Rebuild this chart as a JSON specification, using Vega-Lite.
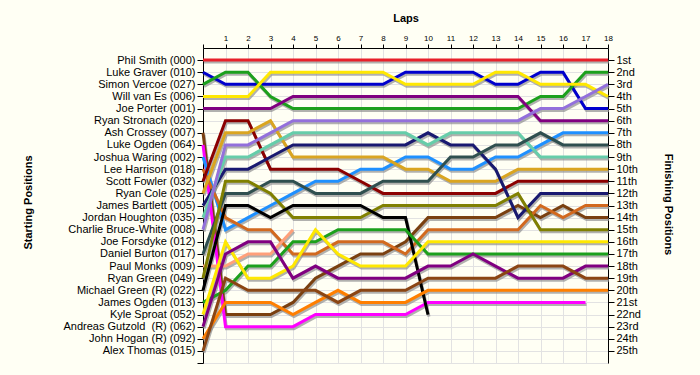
{
  "$schema": "https://vega.github.io/schema/vega-lite/v6.json",
  "width": 405,
  "height": 315,
  "autosize": "none",
  "padding": {"left": 203, "top": 48, "right": 92, "bottom": 12},
  "background": "#FFFFF4",
  "config": {"view": {"stroke": null, "fill": "#FFFFF4"}, "font": "Liberation Sans"},
  "datasets": {
    "laps": [
      {"d":"000","l":0,"p":1},{"d":"000","l":1,"p":1},{"d":"000","l":2,"p":1},{"d":"000","l":3,"p":1},{"d":"000","l":4,"p":1},{"d":"000","l":5,"p":1},{"d":"000","l":6,"p":1},{"d":"000","l":7,"p":1},{"d":"000","l":8,"p":1},{"d":"000","l":9,"p":1},{"d":"000","l":10,"p":1},{"d":"000","l":11,"p":1},{"d":"000","l":12,"p":1},{"d":"000","l":13,"p":1},{"d":"000","l":14,"p":1},{"d":"000","l":15,"p":1},{"d":"000","l":16,"p":1},{"d":"000","l":17,"p":1},{"d":"000","l":18,"p":1},
      {"d":"010","l":0,"p":2},{"d":"010","l":1,"p":3},{"d":"010","l":2,"p":3},{"d":"010","l":3,"p":3},{"d":"010","l":4,"p":3},{"d":"010","l":5,"p":3},{"d":"010","l":6,"p":3},{"d":"010","l":7,"p":3},{"d":"010","l":8,"p":3},{"d":"010","l":9,"p":2},{"d":"010","l":10,"p":2},{"d":"010","l":11,"p":2},{"d":"010","l":12,"p":2},{"d":"010","l":13,"p":3},{"d":"010","l":14,"p":3},{"d":"010","l":15,"p":2},{"d":"010","l":16,"p":2},{"d":"010","l":17,"p":5},{"d":"010","l":18,"p":5},
      {"d":"027","l":0,"p":3},{"d":"027","l":1,"p":2},{"d":"027","l":2,"p":2},{"d":"027","l":3,"p":4},{"d":"027","l":4,"p":5},{"d":"027","l":5,"p":5},{"d":"027","l":6,"p":5},{"d":"027","l":7,"p":5},{"d":"027","l":8,"p":5},{"d":"027","l":9,"p":5},{"d":"027","l":10,"p":5},{"d":"027","l":11,"p":5},{"d":"027","l":12,"p":5},{"d":"027","l":13,"p":5},{"d":"027","l":14,"p":5},{"d":"027","l":15,"p":4},{"d":"027","l":16,"p":4},{"d":"027","l":17,"p":2},{"d":"027","l":18,"p":2},
      {"d":"006","l":0,"p":4},{"d":"006","l":1,"p":4},{"d":"006","l":2,"p":4},{"d":"006","l":3,"p":2},{"d":"006","l":4,"p":2},{"d":"006","l":5,"p":2},{"d":"006","l":6,"p":2},{"d":"006","l":7,"p":2},{"d":"006","l":8,"p":2},{"d":"006","l":9,"p":3},{"d":"006","l":10,"p":3},{"d":"006","l":11,"p":3},{"d":"006","l":12,"p":3},{"d":"006","l":13,"p":2},{"d":"006","l":14,"p":2},{"d":"006","l":15,"p":3},{"d":"006","l":16,"p":3},{"d":"006","l":17,"p":3},{"d":"006","l":18,"p":4},
      {"d":"001","l":0,"p":5},{"d":"001","l":1,"p":5},{"d":"001","l":2,"p":5},{"d":"001","l":3,"p":5},{"d":"001","l":4,"p":4},{"d":"001","l":5,"p":4},{"d":"001","l":6,"p":4},{"d":"001","l":7,"p":4},{"d":"001","l":8,"p":4},{"d":"001","l":9,"p":4},{"d":"001","l":10,"p":4},{"d":"001","l":11,"p":4},{"d":"001","l":12,"p":4},{"d":"001","l":13,"p":4},{"d":"001","l":14,"p":4},{"d":"001","l":15,"p":6},{"d":"001","l":16,"p":6},{"d":"001","l":17,"p":6},{"d":"001","l":18,"p":6},
      {"d":"020","l":0,"p":6},
      {"d":"007","l":0,"p":7},{"d":"007","l":1,"p":22},{"d":"007","l":2,"p":22},{"d":"007","l":3,"p":22},{"d":"007","l":4,"p":21},{"d":"007","l":5,"p":19},{"d":"007","l":6,"p":18},{"d":"007","l":7,"p":17},{"d":"007","l":8,"p":17},{"d":"007","l":9,"p":16},{"d":"007","l":10,"p":14},{"d":"007","l":11,"p":14},{"d":"007","l":12,"p":14},{"d":"007","l":13,"p":14},{"d":"007","l":14,"p":13},{"d":"007","l":15,"p":14},{"d":"007","l":16,"p":13},{"d":"007","l":17,"p":14},{"d":"007","l":18,"p":14},
      {"d":"064","l":0,"p":8},{"d":"064","l":1,"p":23},{"d":"064","l":2,"p":23},{"d":"064","l":3,"p":23},{"d":"064","l":4,"p":23},{"d":"064","l":5,"p":22},{"d":"064","l":6,"p":22},{"d":"064","l":7,"p":22},{"d":"064","l":8,"p":22},{"d":"064","l":9,"p":22},{"d":"064","l":10,"p":21},{"d":"064","l":11,"p":21},{"d":"064","l":12,"p":21},{"d":"064","l":13,"p":21},{"d":"064","l":14,"p":21},{"d":"064","l":15,"p":21},{"d":"064","l":16,"p":21},{"d":"064","l":17,"p":21},
      {"d":"002","l":0,"p":9},{"d":"002","l":1,"p":15},{"d":"002","l":2,"p":14},{"d":"002","l":3,"p":13},{"d":"002","l":4,"p":12},{"d":"002","l":5,"p":11},{"d":"002","l":6,"p":11},{"d":"002","l":7,"p":10},{"d":"002","l":8,"p":10},{"d":"002","l":9,"p":9},{"d":"002","l":10,"p":9},{"d":"002","l":11,"p":10},{"d":"002","l":12,"p":10},{"d":"002","l":13,"p":9},{"d":"002","l":14,"p":9},{"d":"002","l":15,"p":8},{"d":"002","l":16,"p":7},{"d":"002","l":17,"p":7},{"d":"002","l":18,"p":7},
      {"d":"018","l":0,"p":10},{"d":"018","l":1,"p":14},{"d":"018","l":2,"p":15},{"d":"018","l":3,"p":15},{"d":"018","l":4,"p":17},{"d":"018","l":5,"p":17},{"d":"018","l":6,"p":16},{"d":"018","l":7,"p":16},{"d":"018","l":8,"p":16},{"d":"018","l":9,"p":17},{"d":"018","l":10,"p":15},{"d":"018","l":11,"p":15},{"d":"018","l":12,"p":15},{"d":"018","l":13,"p":15},{"d":"018","l":14,"p":15},{"d":"018","l":15,"p":13},{"d":"018","l":16,"p":14},{"d":"018","l":17,"p":13},{"d":"018","l":18,"p":13},
      {"d":"032","l":0,"p":11},{"d":"032","l":1,"p":6},{"d":"032","l":2,"p":6},{"d":"032","l":3,"p":10},{"d":"032","l":4,"p":10},{"d":"032","l":5,"p":10},{"d":"032","l":6,"p":10},{"d":"032","l":7,"p":11},{"d":"032","l":8,"p":12},{"d":"032","l":9,"p":12},{"d":"032","l":10,"p":12},{"d":"032","l":11,"p":12},{"d":"032","l":12,"p":12},{"d":"032","l":13,"p":12},{"d":"032","l":14,"p":11},{"d":"032","l":15,"p":11},{"d":"032","l":16,"p":11},{"d":"032","l":17,"p":11},{"d":"032","l":18,"p":11},
      {"d":"025","l":0,"p":12},{"d":"025","l":1,"p":7},{"d":"025","l":2,"p":7},{"d":"025","l":3,"p":6},{"d":"025","l":4,"p":9},{"d":"025","l":5,"p":9},{"d":"025","l":6,"p":9},{"d":"025","l":7,"p":9},{"d":"025","l":8,"p":9},{"d":"025","l":9,"p":10},{"d":"025","l":10,"p":10},{"d":"025","l":11,"p":11},{"d":"025","l":12,"p":11},{"d":"025","l":13,"p":11},{"d":"025","l":14,"p":10},{"d":"025","l":15,"p":10},{"d":"025","l":16,"p":10},{"d":"025","l":17,"p":10},{"d":"025","l":18,"p":10},
      {"d":"005","l":0,"p":13},{"d":"005","l":1,"p":10},{"d":"005","l":2,"p":10},{"d":"005","l":3,"p":9},{"d":"005","l":4,"p":8},{"d":"005","l":5,"p":8},{"d":"005","l":6,"p":8},{"d":"005","l":7,"p":8},{"d":"005","l":8,"p":8},{"d":"005","l":9,"p":8},{"d":"005","l":10,"p":7},{"d":"005","l":11,"p":8},{"d":"005","l":12,"p":8},{"d":"005","l":13,"p":10},{"d":"005","l":14,"p":14},{"d":"005","l":15,"p":12},{"d":"005","l":16,"p":12},{"d":"005","l":17,"p":12},{"d":"005","l":18,"p":12},
      {"d":"035","l":0,"p":14},{"d":"035","l":1,"p":9},{"d":"035","l":2,"p":9},{"d":"035","l":3,"p":8},{"d":"035","l":4,"p":7},{"d":"035","l":5,"p":7},{"d":"035","l":6,"p":7},{"d":"035","l":7,"p":7},{"d":"035","l":8,"p":7},{"d":"035","l":9,"p":7},{"d":"035","l":10,"p":8},{"d":"035","l":11,"p":7},{"d":"035","l":12,"p":7},{"d":"035","l":13,"p":7},{"d":"035","l":14,"p":7},{"d":"035","l":15,"p":9},{"d":"035","l":16,"p":9},{"d":"035","l":17,"p":9},{"d":"035","l":18,"p":9},
      {"d":"008","l":0,"p":15},{"d":"008","l":1,"p":8},{"d":"008","l":2,"p":8},{"d":"008","l":3,"p":7},{"d":"008","l":4,"p":6},{"d":"008","l":5,"p":6},{"d":"008","l":6,"p":6},{"d":"008","l":7,"p":6},{"d":"008","l":8,"p":6},{"d":"008","l":9,"p":6},{"d":"008","l":10,"p":6},{"d":"008","l":11,"p":6},{"d":"008","l":12,"p":6},{"d":"008","l":13,"p":6},{"d":"008","l":14,"p":6},{"d":"008","l":15,"p":5},{"d":"008","l":16,"p":5},{"d":"008","l":17,"p":4},{"d":"008","l":18,"p":3},
      {"d":"012","l":0,"p":16},
      {"d":"017","l":0,"p":17},{"d":"017","l":1,"p":12},{"d":"017","l":2,"p":12},{"d":"017","l":3,"p":11},{"d":"017","l":4,"p":11},{"d":"017","l":5,"p":12},{"d":"017","l":6,"p":12},{"d":"017","l":7,"p":12},{"d":"017","l":8,"p":11},{"d":"017","l":9,"p":11},{"d":"017","l":10,"p":11},{"d":"017","l":11,"p":9},{"d":"017","l":12,"p":9},{"d":"017","l":13,"p":8},{"d":"017","l":14,"p":8},{"d":"017","l":15,"p":7},{"d":"017","l":16,"p":8},{"d":"017","l":17,"p":8},{"d":"017","l":18,"p":8},
      {"d":"009","l":0,"p":18},{"d":"009","l":1,"p":18},{"d":"009","l":2,"p":17},{"d":"009","l":3,"p":17},{"d":"009","l":4,"p":15},
      {"d":"049","l":0,"p":19},{"d":"049","l":1,"p":11},{"d":"049","l":2,"p":11},{"d":"049","l":3,"p":12},{"d":"049","l":4,"p":14},{"d":"049","l":5,"p":14},{"d":"049","l":6,"p":14},{"d":"049","l":7,"p":14},{"d":"049","l":8,"p":13},{"d":"049","l":9,"p":13},{"d":"049","l":10,"p":13},{"d":"049","l":11,"p":13},{"d":"049","l":12,"p":13},{"d":"049","l":13,"p":13},{"d":"049","l":14,"p":12},{"d":"049","l":15,"p":15},{"d":"049","l":16,"p":15},{"d":"049","l":17,"p":15},{"d":"049","l":18,"p":15},
      {"d":"022","l":0,"p":20},{"d":"022","l":1,"p":13},{"d":"022","l":2,"p":13},{"d":"022","l":3,"p":14},{"d":"022","l":4,"p":13},{"d":"022","l":5,"p":13},{"d":"022","l":6,"p":13},{"d":"022","l":7,"p":13},{"d":"022","l":8,"p":14},{"d":"022","l":9,"p":14},{"d":"022","l":10,"p":22},
      {"d":"013","l":0,"p":21},{"d":"013","l":1,"p":20},{"d":"013","l":2,"p":18},{"d":"013","l":3,"p":18},{"d":"013","l":4,"p":16},{"d":"013","l":5,"p":16},{"d":"013","l":6,"p":15},{"d":"013","l":7,"p":15},{"d":"013","l":8,"p":15},{"d":"013","l":9,"p":15},{"d":"013","l":10,"p":17},{"d":"013","l":11,"p":17},{"d":"013","l":12,"p":17},{"d":"013","l":13,"p":17},{"d":"013","l":14,"p":17},{"d":"013","l":15,"p":17},{"d":"013","l":16,"p":17},{"d":"013","l":17,"p":17},{"d":"013","l":18,"p":17},
      {"d":"052","l":0,"p":22},{"d":"052","l":1,"p":16},{"d":"052","l":2,"p":19},{"d":"052","l":3,"p":19},{"d":"052","l":4,"p":18},{"d":"052","l":5,"p":15},{"d":"052","l":6,"p":17},{"d":"052","l":7,"p":18},{"d":"052","l":8,"p":18},{"d":"052","l":9,"p":18},{"d":"052","l":10,"p":16},{"d":"052","l":11,"p":16},{"d":"052","l":12,"p":16},{"d":"052","l":13,"p":16},{"d":"052","l":14,"p":16},{"d":"052","l":15,"p":16},{"d":"052","l":16,"p":16},{"d":"052","l":17,"p":16},{"d":"052","l":18,"p":16},
      {"d":"062","l":0,"p":23},{"d":"062","l":1,"p":17},{"d":"062","l":2,"p":16},{"d":"062","l":3,"p":16},{"d":"062","l":4,"p":19},{"d":"062","l":5,"p":18},{"d":"062","l":6,"p":19},{"d":"062","l":7,"p":19},{"d":"062","l":8,"p":19},{"d":"062","l":9,"p":19},{"d":"062","l":10,"p":18},{"d":"062","l":11,"p":18},{"d":"062","l":12,"p":17},{"d":"062","l":13,"p":18},{"d":"062","l":14,"p":19},{"d":"062","l":15,"p":19},{"d":"062","l":16,"p":19},{"d":"062","l":17,"p":18},{"d":"062","l":18,"p":18},
      {"d":"092","l":0,"p":24},{"d":"092","l":1,"p":21},{"d":"092","l":2,"p":21},{"d":"092","l":3,"p":21},{"d":"092","l":4,"p":22},{"d":"092","l":5,"p":21},{"d":"092","l":6,"p":20},{"d":"092","l":7,"p":21},{"d":"092","l":8,"p":21},{"d":"092","l":9,"p":21},{"d":"092","l":10,"p":20},{"d":"092","l":11,"p":20},{"d":"092","l":12,"p":20},{"d":"092","l":13,"p":20},{"d":"092","l":14,"p":20},{"d":"092","l":15,"p":20},{"d":"092","l":16,"p":20},{"d":"092","l":17,"p":20},{"d":"092","l":18,"p":20},
      {"d":"015","l":0,"p":25},{"d":"015","l":1,"p":19},{"d":"015","l":2,"p":20},{"d":"015","l":3,"p":20},{"d":"015","l":4,"p":20},{"d":"015","l":5,"p":20},{"d":"015","l":6,"p":21},{"d":"015","l":7,"p":20},{"d":"015","l":8,"p":20},{"d":"015","l":9,"p":20},{"d":"015","l":10,"p":19},{"d":"015","l":11,"p":19},{"d":"015","l":12,"p":19},{"d":"015","l":13,"p":19},{"d":"015","l":14,"p":18},{"d":"015","l":15,"p":18},{"d":"015","l":16,"p":18},{"d":"015","l":17,"p":19},{"d":"015","l":18,"p":19}
    ]
  },
  "data": {"name": "laps"},
  "encoding": {
    "x": {"field": "l", "type": "quantitative", "scale": {"domain": [0, 18], "nice": false, "zero": false},
      "axis": {"orient": "top", "values": [0,1,2,3,4,5,6,7,8,9,10,11,12,13,14,15,16,17,18], "labelExpr": "datum.value == 0 ? '' : datum.value", "labelOverlap": false, "labelBound": false, "labelFlush": false, "title": "Laps", "titleFontSize": 11, "titleFontWeight": "bold", "titleY": -30, "titleBaseline": "middle", "labelFontSize": 8, "labelColor": "#000000", "labelPadding": 2, "tickSize": 4, "tickColor": "#000000", "domainColor": "#000000", "grid": true, "gridColor": "#E2E2E2"}},
    "y": {"field": "p", "type": "quantitative", "scale": {"domain": [0, 26], "reverse": true, "nice": false, "zero": false}},
    "detail": {"field": "d"}
  },
  "layer": [
    {
      "mark": {"type": "line", "color": "#909090", "strokeWidth": 3, "opacity": 0.7, "xOffset": 1, "yOffset": 2},
      "encoding": {
        "y": {"field": "p", "type": "quantitative", "scale": {"domain": [0, 26], "reverse": true, "nice": false, "zero": false},
          "axis": {"orient": "left", "values": [1,2,3,4,5,6,7,8,9,10,11,12,13,14,15,16,17,18,19,20,21,22,23,24,25,26],
            "labelExpr": "['', 'Phil Smith (000)', 'Luke Graver (010)', 'Simon Vercoe (027)', 'Will van Es (006)', 'Joe Porter (001)', 'Ryan Stronach (020)', 'Ash Crossey (007)', 'Luke Ogden (064)', 'Joshua Waring (002)', 'Lee Harrison (018)', 'Scott Fowler (032)', 'Ryan Cole (025)', 'James Bartlett (005)', 'Jordan Houghton (035)', 'Charlie Bruce-White (008)', 'Joe Forsdyke (012)', 'Daniel Burton (017)', 'Paul Monks (009)', 'Ryan Green (049)', 'Michael Green (R) (022)', 'James Ogden (013)', 'Kyle Sproat (052)', 'Andreas Gutzold\u00a0 (R) (062)', 'John Hogan (R) (092)', 'Alex Thomas (015)', ''][datum.value]",
            "title": "Starting Positions", "titleFontSize": 11, "titleFontWeight": "bold", "titleX": -175, "titleY": 154, "titleAngle": 270, "titleAlign": "center", "titleBaseline": "middle",
            "labelFontSize": 11, "labelColor": "#000000", "labelPadding": 2, "tickSize": 6, "tickColor": "#000000", "domainColor": "#000000", "grid": true, "gridColor": "#E2E2E2", "labelOverlap": false, "labelBound": false}}
      }
    },
    {
      "mark": {"type": "line", "strokeWidth": 3},
      "encoding": {
        "y": {"field": "p", "type": "quantitative", "scale": {"domain": [0, 26], "reverse": true, "nice": false, "zero": false},
          "axis": {"orient": "right", "values": [1,2,3,4,5,6,7,8,9,10,11,12,13,14,15,16,17,18,19,20,21,22,23,24,25],
            "labelExpr": "datum.value + ((datum.value % 10 == 1 && datum.value != 11) ? 'st' : (datum.value % 10 == 2 && datum.value != 12) ? 'nd' : (datum.value % 10 == 3 && datum.value != 13) ? 'rd' : 'th')",
            "title": "Finishing Positions", "titleFontSize": 11, "titleFontWeight": "bold", "titleX": 59, "titleY": 156, "titleAngle": 90, "titleAlign": "center", "titleBaseline": "middle",
            "labelFontSize": 11, "labelColor": "#000000", "labelPadding": 2, "tickSize": 6, "tickColor": "#000000", "domainColor": "#000000", "grid": false, "labelOverlap": false, "labelBound": false}},
        "color": {"field": "d", "type": "nominal", "legend": null,
          "scale": {"domain": ["000","010","027","006","001","020","007","064","002","018","032","025","005","035","008","012","017","009","049","022","013","052","062","092","015"],
            "range": ["#E8202A","#0000CD","#1CA01C","#FFE800","#800080","#999999","#7A4010","#FF00FF","#1E90FF","#D2691E","#8B0000","#DAA520","#191970","#66CDAA","#9370DB","#999999","#2F4F4F","#FFA07A","#808000","#000000","#1CA01C","#FFE800","#800080","#FF7F00","#8B4513"]}}
      }
    }
  ],
  "resolve": {"axis": {"y": "independent"}}
}
